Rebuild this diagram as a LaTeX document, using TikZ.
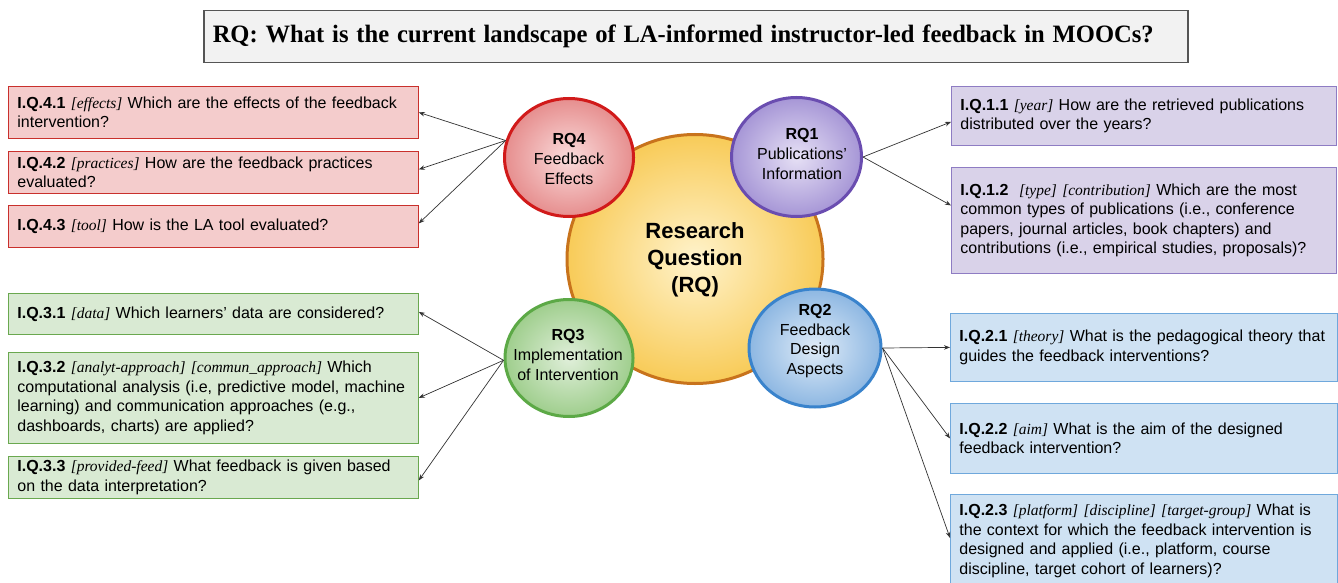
\documentclass[tikz,border=0pt]{standalone}
\usepackage{graphicx}
\usepackage{fontspec}
\setmainfont{Liberation Sans}
\newfontfamily\tagfamily{Liberation Serif}
\newfontfamily\headfamily{Liberation Serif}
\usetikzlibrary{shapes.geometric,arrows.meta,calc}

\definecolor{redfill}{HTML}{F4CCCC}
\definecolor{redline}{HTML}{C9302C}
\definecolor{greenfill}{HTML}{D9EAD3}
\definecolor{greenline}{HTML}{6AA84F}
\definecolor{purplefill}{HTML}{D9D2E9}
\definecolor{purpleline}{HTML}{8E7CC3}
\definecolor{bluefill}{HTML}{CFE2F3}
\definecolor{blueline}{HTML}{6FA8DC}
\definecolor{titlefill}{HTML}{F2F2F2}
\definecolor{titleline}{HTML}{555555}
\definecolor{linkgray}{HTML}{333333}

% bubble colours: inner / outer shading and rim
\definecolor{coreIn}{HTML}{FFF3CC}
\definecolor{coreOut}{HTML}{F8CB58}
\definecolor{coreRim}{HTML}{C8731C}
\definecolor{redIn}{HTML}{FADCDC}
\definecolor{redOut}{HTML}{E68E8E}
\definecolor{redRim}{HTML}{D11A1A}
\definecolor{purIn}{HTML}{E6E0F5}
\definecolor{purOut}{HTML}{A696D6}
\definecolor{purRim}{HTML}{6A4DB0}
\definecolor{bluIn}{HTML}{E0ECF8}
\definecolor{bluOut}{HTML}{8DB7E2}
\definecolor{bluRim}{HTML}{3983CC}
\definecolor{grnIn}{HTML}{E0EFDA}
\definecolor{grnOut}{HTML}{9FCE8D}
\definecolor{grnRim}{HTML}{5CA946}

\newcommand\tg[1]{{\tagfamily\itshape\fontsize{15.5}{19.6}\selectfont #1}}
\newcommand\iq[1]{\textbf{#1}}

\begin{document}
\begin{tikzpicture}[x=1pt,y=-1pt,
  qbox/.style={draw, line width=0.8pt, anchor=north west, inner xsep=9pt,
    inner ysep=0pt, align=left, font=\fontsize{16}{19.6}\selectfont},
  redq/.style={qbox, fill=redfill, draw=redline, text width=392pt},
  greenq/.style={qbox, fill=greenfill, draw=greenline, text width=392pt},
  purq/.style={qbox, fill=purplefill, draw=purpleline, text width=367pt},
  bluq/.style={qbox, fill=bluefill, draw=blueline, text width=369pt},
  bubble/.style={ellipse, inner sep=0pt, line width=3pt},
  btext/.style={align=center, inner sep=0pt, font=\fontsize{16}{19.6}\selectfont},
  link/.style={-{Stealth[length=6pt,width=4.5pt]}, line width=0.7pt, draw=linkgray},
]
\useasboundingbox (0,0) rectangle (1338,583);
\fill[white] (0,0) rectangle (1338,583);

% heading
\node[draw=titleline, fill=titlefill, line width=1.5pt, anchor=north west,
  minimum height=52pt, inner xsep=9pt, text width=966pt, align=left] (title) at (203,10)
  {\resizebox{941pt}{\height}{\headfamily\bfseries\fontsize{25}{30}\selectfont\spaceskip=0.32em RQ: What is the current landscape of LA-informed instructor-led feedback in MOOCs?}};

% central bubble and the four sub-questions
\node[bubble, draw=coreRim, inner color=coreIn, outer color=coreOut,
  minimum width=256pt, minimum height=249pt] (core) at (695,259) {};
\node[btext, font=\fontsize{22}{27}\selectfont\bfseries] (coret) at (695,260) {Research\\Question\\(RQ)};

\node[bubble, draw=redRim, inner color=redIn, outer color=redOut,
  minimum width=129pt, minimum height=118pt] (rq4) at (569,157.5) {};
\node[btext] (rq4t) at (569,159) {\textbf{RQ4}\\Feedback\\Effects};

\node[bubble, draw=purRim, inner color=purIn, outer color=purOut,
  minimum width=130pt, minimum height=119pt] (rq1) at (796.5,157) {};
\node[btext] (rq1t) at (802,154) {\textbf{RQ1}\\Publications'\\Information};

\node[bubble, draw=bluRim, inner color=bluIn, outer color=bluOut,
  minimum width=132pt, minimum height=118pt] (rq2) at (815,348) {};
\node[btext] (rq2t) at (815,341) {\textbf{RQ2}\\Feedback\\Design\\Aspects};

\node[bubble, draw=grnRim, inner color=grnIn, outer color=grnOut,
  minimum width=128pt, minimum height=117pt] (rq3) at (569,358) {};
\node[btext] (rq3t) at (568,355) {\textbf{RQ3}\\Implementation\\of Intervention};

% RQ4 questions
\node[redq, minimum height=52pt] (r1) at (8,86)
  {\iq{I.Q.4.1} \tg{[effects]} Which are the effects of the feedback\\intervention?};
\node[redq, minimum height=42pt] (r2) at (8,151)
  {\iq{I.Q.4.2} \tg{[practices]} How are the feedback practices\\evaluated?};
\node[redq, minimum height=42pt] (r3) at (8,205)
  {\iq{I.Q.4.3} \tg{[tool]} How is the LA tool evaluated?};

% RQ3 questions
\node[greenq, minimum height=41pt] (g1) at (8,293)
  {\iq{I.Q.3.1} \tg{[data]} Which learners' data are considered?};
\node[greenq, minimum height=91pt] (g2) at (8,352)
  {\iq{I.Q.3.2} \tg{[analyt-approach] [commun\_approach]} Which\\computational analysis (i.e, predictive model, machine\\learning) and communication approaches (e.g.,\\dashboards, charts) are applied?};
\node[greenq, minimum height=42pt] (g3) at (8,456)
  {\iq{I.Q.3.3} \tg{[provided-feed]} What feedback is given based\\on the data interpretation?};

% RQ1 questions
\node[purq, minimum height=59pt] (p1) at (951,86)
  {\iq{I.Q.1.1} \tg{[year]} How are the retrieved publications\\distributed over the years?};
\node[purq, minimum height=106pt] (p2) at (951,167)
  {\iq{I.Q.1.2}\ \ \tg{[type] [contribution]} Which are the most\\common types of publications (i.e., conference\\papers, journal articles, book chapters) and\\contributions (i.e., empirical studies, proposals)?};

% RQ2 questions
\node[bluq, minimum height=68pt] (b1) at (950,313)
  {\iq{I.Q.2.1} \tg{[theory]} What is the pedagogical theory that\\guides the feedback interventions?};
\node[bluq, minimum height=70pt] (b2) at (950,403)
  {\iq{I.Q.2.2} \tg{[aim]} What is the aim of the designed\\feedback intervention?};
\node[bluq, minimum height=93pt] (b3) at (950,494)
  {\iq{I.Q.2.3} \tg{[platform] [discipline] [target-group]} What is\\the context for which the feedback intervention is\\designed and applied (i.e., platform, course\\discipline, target cohort of learners)?};

% connectors
\draw[link] (rq4.165) -- (r1.east);
\draw[link] (rq4.165) -- ($(r2.east)+(0,-3)$);
\draw[link] (rq4.165) -- ($(r3.east)+(0,-3)$);

\draw[link] (rq3.182) -- ($(g1.east)+(0,-2)$);
\draw[link] (rq3.182) -- (g2.east);
\draw[link] (rq3.182) -- ($(g3.east)+(0,3)$);

\draw[link] (rq1.east) -- ($(p1.west)+(0,6)$);
\draw[link] (rq1.east) -- ($(p2.west)+(0,-15)$);

\draw[link] (rq2.east) -- (b1.west);
\draw[link] (rq2.east) -- (b2.west);
\draw[link] (rq2.east) -- ($(b3.west)+(0,-3)$);
\end{tikzpicture}
\end{document}
